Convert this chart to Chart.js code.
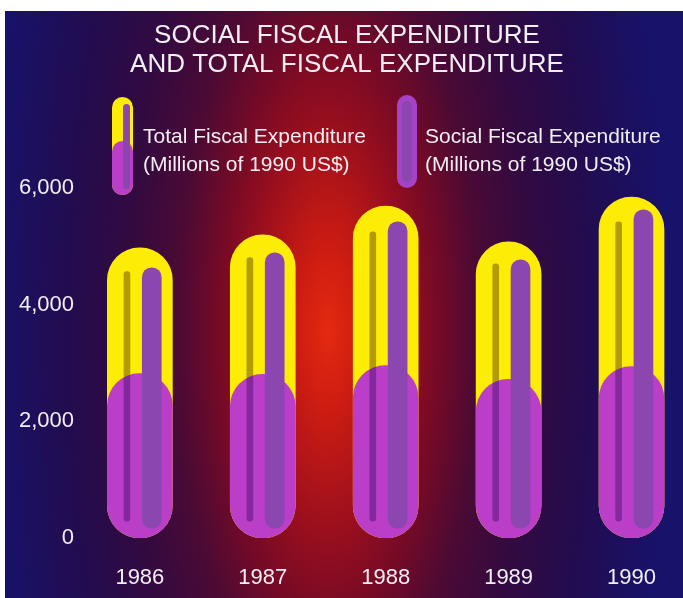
<!DOCTYPE html>
<html>
<head>
<meta charset="utf-8">
<script src="https://cdn.jsdelivr.net/npm/chart.js@4.4.1/dist/chart.umd.min.js"></script>
<style>
html,body{margin:0;padding:0;background:#fff;overflow:hidden;}
#wrap{position:absolute;left:0;top:0;width:683px;height:598px;}
</style>
</head>
<body>
<div id="wrap"><canvas id="c" width="683" height="598"></canvas></div>
<script>
// ---- data ----
const years = ['1986', '1987', '1988', '1989', '1990'];
const totalExpenditure  = [4975, 5195, 5690, 5075, 5845];   // Total Fiscal Expenditure (Millions of 1990 US$)
const socialExpenditure = [2820, 2805, 2955, 2720, 2940];   // Social Fiscal Expenditure (Millions of 1990 US$)
const tubeTop = [4630, 4890, 5420, 4770, 5625];             // decorative inner tube tops
const rodTop  = [4565, 4805, 5250, 4700, 5420];             // decorative thin rod tops
const yTicks = [0, 2000, 4000, 6000];
const titleLines = ['SOCIAL FISCAL EXPENDITURE', 'AND TOTAL FISCAL EXPENDITURE'];
const legendTotal = ['Total Fiscal Expenditure', '(Millions of 1990 US$)'];
const legendSocial = ['Social Fiscal Expenditure', '(Millions of 1990 US$)'];

// ---- style ----
const FONT = '"Liberation Sans", Arial, Helvetica, sans-serif';
const TEXT = '#f3eef3';
const YELLOW = '#fcec06';
const PURPLE = '#bb3ec8';
const TUBE = '#8c46b0';
const ROD = 'rgb(180,168,200)';
const NAVY = '#17126a';
const TUBE_BASE = 170, ROD_BASE = 290;
const TUBE_DX = 0.097, ROD_DX = -0.105;

function pill(ctx, x, y, w, h, color) {
  ctx.beginPath();
  ctx.roundRect(x, y, w, h, w / 2);
  ctx.fillStyle = color;
  ctx.fill();
}

const bgPlugin = {
  id: 'bg',
  beforeDraw(chart) {
    const ctx = chart.ctx, W = chart.width, H = chart.height;
    ctx.save();
    ctx.fillStyle = '#ffffff';
    ctx.fillRect(0, 0, W, H);
    ctx.beginPath();
    ctx.rect(5, 11, W - 5, H - 11);
    ctx.clip();
    ctx.fillStyle = NAVY;
    ctx.fillRect(0, 0, W, H);
    ctx.translate(328, 330);
    ctx.scale(340 / 900, 1);
    const g = ctx.createRadialGradient(0, 0, 0, 0, 0, 900);
    g.addColorStop(0, 'rgb(228,42,16)');
    g.addColorStop(0.09, 'rgb(205,28,18)');
    g.addColorStop(0.235, 'rgb(150,14,30)');
    g.addColorStop(0.32, 'rgb(118,10,38)');
    g.addColorStop(0.44, 'rgb(75,10,52)');
    g.addColorStop(0.59, 'rgb(50,10,64)');
    g.addColorStop(0.76, 'rgb(35,12,78)');
    g.addColorStop(1, 'rgb(23,18,106)');
    ctx.fillStyle = g;
    ctx.fillRect(-3000, -700, 6000, 1400);
    ctx.restore();
  }
};

const blendPlugin = {
  id: 'blend',
  beforeDatasetDraw(chart, args) {
    if (chart.data.datasets[args.index].multiply) {
      chart.ctx.save();
      chart.ctx.globalCompositeOperation = 'multiply';
    }
  },
  afterDatasetDraw(chart, args) {
    if (chart.data.datasets[args.index].multiply) chart.ctx.restore();
  }
};

const legendPlugin = {
  id: 'pillLegend',
  afterDraw(chart) {
    const ctx = chart.ctx;
    ctx.save();
    // Total icon
    pill(ctx, 112, 97, 21, 98, YELLOW);
    pill(ctx, 112, 141, 21, 54, PURPLE);
    pill(ctx, 123, 104, 7, 85, TUBE);
    // Social icon
    pill(ctx, 397, 95, 20, 93, '#a642c8');
    pill(ctx, 402, 101, 10, 81, TUBE);
    ctx.fillStyle = TEXT;
    ctx.font = '21px ' + FONT;
    ctx.textAlign = 'left';
    ctx.textBaseline = 'alphabetic';
    ctx.fillText(legendTotal[0], 143, 143);
    ctx.fillText(legendTotal[1], 143, 171);
    ctx.fillText(legendSocial[0], 425, 143);
    ctx.fillText(legendSocial[1], 425, 171);
    ctx.restore();
  }
};

const common = { grouped: false, borderSkipped: false };

new Chart(document.getElementById('c'), {
  type: 'bar',
  data: {
    datasets: [
      Object.assign({
        label: 'Total Fiscal Expenditure',
        data: totalExpenditure.map((v, i) => ({ x: i, y: v })),
        backgroundColor: YELLOW, barThickness: 65, borderRadius: 33, order: 4
      }, common),
      Object.assign({
        label: 'Social Fiscal Expenditure',
        data: socialExpenditure.map((v, i) => ({ x: i, y: v })),
        backgroundColor: PURPLE, barThickness: 65, borderRadius: 33, order: 3
      }, common),
      Object.assign({
        label: 'tube',
        data: tubeTop.map((v, i) => ({ x: i + TUBE_DX, y: [TUBE_BASE, v] })),
        backgroundColor: TUBE, barThickness: 19, borderRadius: 10, order: 2
      }, common),
      Object.assign({
        label: 'rod', multiply: true,
        data: rodTop.map((v, i) => ({ x: i + ROD_DX, y: [ROD_BASE, v] })),
        backgroundColor: ROD, barThickness: 6, borderRadius: 3, order: 1
      }, common)
    ]
  },
  options: {
    responsive: false,
    animation: false,
    events: [],
    layout: { padding: { left: 11, right: 0, top: 0, bottom: 0 } },
    plugins: {
      legend: { display: false },
      tooltip: { enabled: false },
      title: {
        display: true,
        text: titleLines,
        color: TEXT,
        font: { family: FONT, size: 26, weight: 'normal', lineHeight: 1.115 },
        padding: { top: 21, bottom: 109 }
      }
    },
    scales: {
      x: {
        type: 'linear',
        offset: false,
        min: -0.487,
        max: 4.406,
        afterBuildTicks: (s) => { s.ticks = years.map((_, i) => ({ value: i })); },
        afterFit: (s) => { s.height = 60; },
        ticks: {
          callback: (v) => years[v],
          color: TEXT,
          font: { family: FONT, size: 22 },
          padding: 27,
          autoSkip: false,
          maxRotation: 0
        },
        grid: { display: false, drawTicks: false },
        border: { display: false }
      },
      y: {
        min: 0,
        max: 6000,
        afterBuildTicks: (s) => { s.ticks = yTicks.map(v => ({ value: v })); },
        afterFit: (s) => { s.width = 69; },
        ticks: {
          callback: (v) => v.toLocaleString('en-US'),
          color: TEXT,
          font: { family: FONT, size: 22 },
          padding: 6
        },
        grid: { display: false, drawTicks: false },
        border: { display: false }
      }
    }
  },
  plugins: [bgPlugin, blendPlugin, legendPlugin]
});
</script>
</body>
</html>
